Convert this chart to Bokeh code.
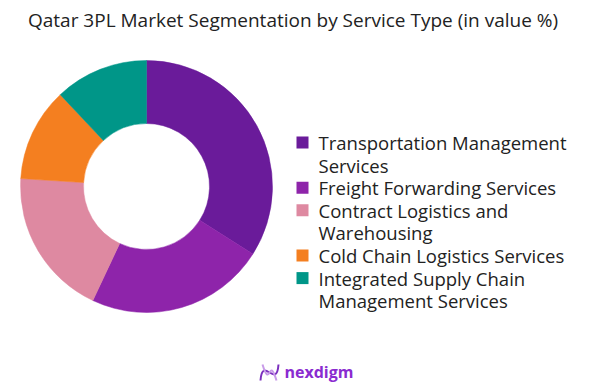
import math
from bokeh.plotting import figure
from bokeh.models import ColumnDataSource
from bokeh.core.properties import value
from bokeh.embed import file_html
from bokeh.resources import INLINE

title_text = "Qatar 3PL Market Segmentation by Service Type  (in value %)"
categories = [
    "Transportation Management Services",
    "Freight Forwarding Services",
    "Contract Logistics and Warehousing",
    "Cold Chain Logistics Services",
    "Integrated Supply Chain Management Services",
]
legend_lines = [
    ["Transportation Management", "Services"],
    ["Freight Forwarding Services"],
    ["Contract Logistics and", "Warehousing"],
    ["Cold Chain Logistics Services"],
    ["Integrated Supply Chain", "Management Services"],
]
shares = [34, 23, 19, 12, 12]
colors = ["#6A1B9A", "#8E24AA", "#DE89A1", "#F47F20", "#009688"]
brand = "nexdigm"

W, H = 593, 391
p = figure(width=W, height=H, x_range=(0, W), y_range=(0, H),
           output_backend="svg", toolbar_location=None,
           x_axis_location=None, y_axis_location=None, min_border=0)
p.grid.visible = False
p.outline_line_color = None
p.background_fill_color = "white"

def X(px):
    return px
def Y(py):
    return H - py

# donut
total = float(sum(shares))
starts, ends = [], []
acc = 0.0
for s in shares:
    a0 = math.pi / 2 - 2 * math.pi * acc / total
    acc += s
    a1 = math.pi / 2 - 2 * math.pi * acc / total
    starts.append(a1)
    ends.append(a0)
src = ColumnDataSource(dict(start=starts, end=ends, color=colors, cat=categories))
p.annular_wedge(x=X(146), y=Y(186), inner_radius=63, outer_radius=126,
                inner_radius_units="screen", outer_radius_units="screen",
                start_angle="start", end_angle="end", fill_color="color",
                line_color="color", line_width=0.5, source=src)

# title
p.text(x=[X(295)], y=[Y(19)], text=[title_text], text_font=value("Open Sans"),
       text_font_size="19px", text_color="#222222", text_align="center",
       text_baseline="middle")

# legend
step = 22.6
line_y = 142.0
sq_x, sq_y, tx, ty, tt = [], [], [], [], []
for i, lines in enumerate(legend_lines):
    sq_x.append(X(302))
    sq_y.append(Y(line_y))
    for ln in lines:
        tx.append(X(318))
        ty.append(Y(line_y))
        tt.append(ln)
        line_y += step
p.rect(x=sq_x, y=sq_y, width=12, height=12, width_units="screen",
       height_units="screen", fill_color=colors, line_color=None)
p.text(x=tx, y=ty, text=tt, text_font=value("Open Sans"), text_font_size="18.5px",
       text_color="#222222", text_align="left", text_baseline="middle")

# brand logo
p.bezier(x0=[X(260), X(262)], y0=[Y(380), Y(364)], x1=[X(278), X(276)], y1=[Y(364), Y(380)],
         cx0=[X(262), X(270)], cy0=[Y(354), Y(390)], cx1=[X(276), X(268)], cy1=[Y(390), Y(354)],
         line_color=["#7B2FBE", "#C89BE8"], line_width=2)
p.text(x=[X(284)], y=[Y(371)], text=[brand], text_font=value("Open Sans"),
       text_font_size="16px", text_font_style="bold", text_color="#8A2BD0",
       text_align="left", text_baseline="middle")

open("out.html", "w").write(file_html(p, INLINE))
